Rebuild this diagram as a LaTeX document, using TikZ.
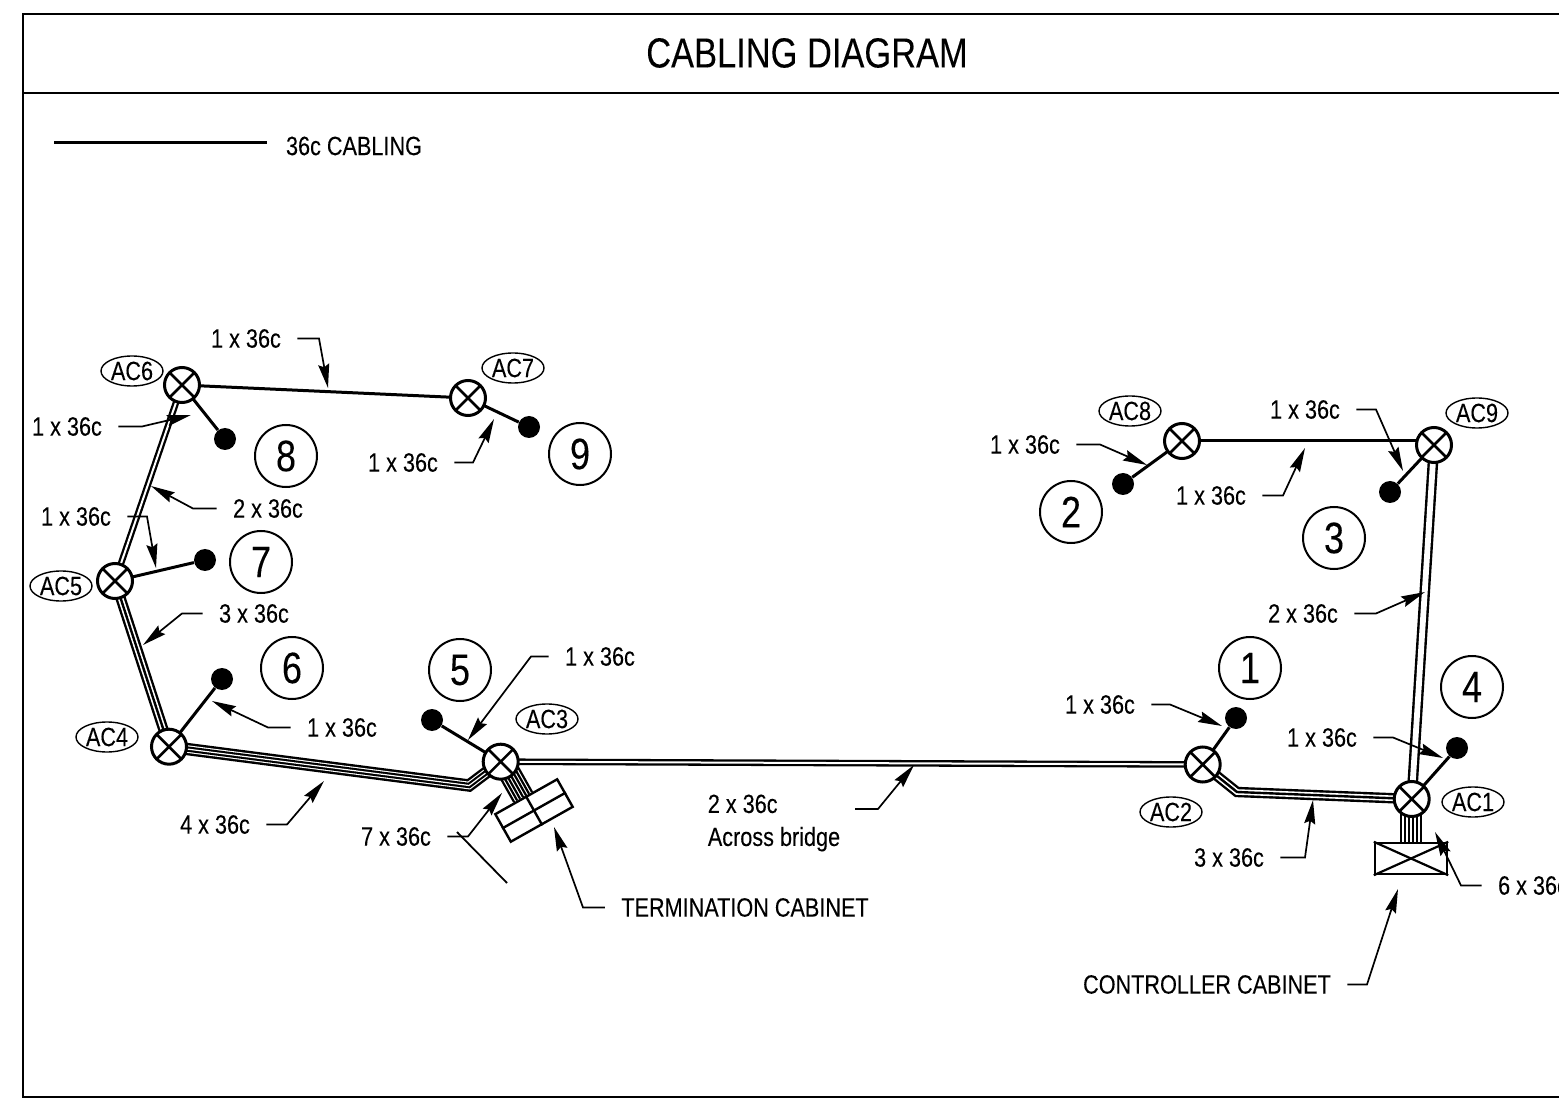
\documentclass[tikz,border=0pt]{standalone}
\usepackage{fontspec}
\setmainfont[FakeStretch=0.82,FakeBold=0.12]{Liberation Sans}
\usetikzlibrary{arrows.meta}
\usetikzlibrary{calc}
\usetikzlibrary{backgrounds}
\usetikzlibrary{shapes.geometric}
\tikzset{
        outlet/.style={circle,draw,fill=white,line width=1.5pt,minimum size=17.5pt,inner sep=0pt,
                path picture={\draw[line width=1.3pt] (path picture bounding box.north west) -- (path picture bounding box.south east)
                (path picture bounding box.north east) -- (path picture bounding box.south west);}},
        tagoval/.style={ellipse,draw,line width=0.7pt,minimum width=31pt,minimum height=15pt,inner sep=0pt,font=\fontsize{13.2}{15}\selectfont},
        numcircle/.style={circle,draw,line width=1pt,minimum size=31pt,inner sep=0pt,font=\fontsize{22}{24}\selectfont},
        enddot/.style={circle,fill=black,minimum size=11pt,inner sep=0pt},
        lbl/.style={inner xsep=8pt,inner ysep=0pt,font=\fontsize{13.2}{16}\selectfont},
        leader/.style={line width=0.85pt,-{Stealth[length=12pt,width=5.5pt,inset=1.5pt]}},
        cableone/.style={line width=1.5pt},
        cabletwo/.style={line width=1.15pt,double,double distance=1pt},
        cablewide/.style={line width=1.2pt,double,double distance=2.9pt},
        cablethree/.style={draw=black,line width=1.2pt,preaction={draw,line width=5.2pt},preaction={draw,white,line width=2.8pt}},
        cablefour/.style={draw=white,line width=0.6pt,preaction={draw=black,line width=6.2pt},preaction={draw=white,line width=3.8pt},preaction={draw=black,line width=2.7pt}},
        cabinet/.style={rectangle,draw,line width=1.2pt,inner sep=0pt}
}
\begin{document}
\begin{tikzpicture}[x=0.5pt,y=-0.5pt]
        \useasboundingbox (0,0) rectangle (1559,1101);

        \draw[line width=0.9pt] (1570,14) -- (23,14) -- (23,1097) -- (1570,1097);
        \draw[line width=0.9pt] (23,93) -- (1570,93);

        \node[inner sep=0pt,font=\fontsize{21}{24}\selectfont] (title) at (807,53) {CABLING DIAGRAM};

        \coordinate (keystart) at (54,143);
        \coordinate (keyend) at (267,143);
        \draw[line width=1.5pt] (keystart) -- (keyend);
        \node[lbl,inner xsep=0pt] (keytext) at (354,146) {36c CABLING};

        \foreach \nm/\x/\y in {AC1/1411.7/799,AC2/1202.7/764.5,AC3/500.7/761.7,AC4/169/746.7,AC5/115/581,AC6/182/385,AC7/468/398,AC8/1182/441,AC9/1434/445}
                \node[outlet] (\nm) at (\x,\y) {};

        \foreach \nm/\x/\y in {AC1/1473/802,AC2/1171/812,AC3/547/719,AC4/107/737,AC5/61/586,AC6/132/371,AC7/513/368,AC8/1130/411,AC9/1477/413}
                \node[tagoval] (tag\nm) at (\x,\y) {\nm};

        \foreach \nm/\x/\y/\dx/\dy in {1/1250/668/1236/718,2/1071/512/1123/484,3/1334/538/1390/492,4/1472/687/1457/748,5/460/670/432/720,6/292/668/222/679,7/261/562/205/560,8/286/456/225/439,9/580/454/529/427}{
                \node[numcircle] (num\nm) at (\x,\y) {\nm};
                \node[enddot] (dot\nm) at (\dx,\dy) {};
        }

        \node[cabinet,minimum width=35.5pt,minimum height=15.8pt,rotate=29.4] (termcab) at (534,810.5) {};
        \draw[line width=1.2pt] (termcab.north) -- (termcab.south);
        \draw[line width=1.2pt] (termcab.west) -- (termcab.east);

        \node[cabinet,minimum width=36pt,minimum height=15.5pt,fill=white] (ctrlcab) at (1411,858.5) {};
        \draw[line width=1.1pt] (ctrlcab.north west) -- (ctrlcab.south east);
        \draw[line width=1.1pt] (ctrlcab.north east) -- (ctrlcab.south west);

        \begin{scope}[on background layer]
                \draw[cableone] (AC6.center) -- (AC7.center);
                \draw[cableone] (AC8.center) -- (AC8.center -| AC9.center);
                \draw[cabletwo] (AC6.center) -- (AC5.center);
                \draw[cablethree] (AC5.center) -- (AC4.center);
                \draw[cablefour] (AC4.center) -- (469,785.5) -- (AC3.center);
                \draw[cabletwo] (AC3.center) -- (AC2.center);
                \draw[cablethree] (AC2.center) -- (1237,792) -- (AC1.center);
                \draw[cablewide] (AC1.center) -- (AC9.center);

                \foreach \nm/\num in {AC1/4,AC2/1,AC3/5,AC4/6,AC5/7,AC6/8,AC7/9,AC8/2,AC9/3}
                        \draw[cableone] (\nm.center) -- (dot\num);

                \foreach \t in {0.32,0.367,0.413,0.46,0.507,0.553,0.6}
                        \draw[line width=1.1pt] ($(termcab.north west)!\t!(termcab.north east)$) -- ($($(termcab.south west)!\t!(termcab.south east)$)!2!($(termcab.north west)!\t!(termcab.north east)$)$);

                \foreach \t in {1401,1405,1409,1413,1417,1421}
                        \draw[line width=1.2pt] (\t,799) -- (\t,843);
        \end{scope}

        \foreach \nm/\x/\y/\side/\bx/\by/\tx/\ty/\txt in {
                la/246/338.5/east/319/338.5/328/388/{1 x 36c},
                lb/67/426.5/east/142/426.5/191/415/{1 x 36c},
                lc/268/508.5/west/193/508.5/151/486/{2 x 36c},
                ld/76/516.5/east/147/516.5/156/568/{1 x 36c},
                le/254/613.5/west/182/613.5/143/645/{3 x 36c},
                lf/342/727.5/west/268/727.5/212/701/{1 x 36c},
                lg/215/824.5/east/287/824.5/324/781/{4 x 36c},
                lh/403/462.5/east/473/462.5/494/419/{1 x 36c},
                li/600/656.5/west/531/656.5/468/740/{1 x 36c},
                lj/396/836.5/east/468/836.5/502/793/{7 x 36c},
                lk/745/907.5/west/583/907.5/554/827/{TERMINATION CABINET},
                ll/1229/857.5/east/1305/857.5/1313/800/{3 x 36c},
                lm/1100/704.5/east/1170/704.5/1222/726/{1 x 36c},
                ln/1322/737.5/east/1393/737.5/1443/758/{1 x 36c},
                lo/1533/885.5/west/1461/885.5/1435/832/{6 x 36c},
                lp/1207/984.5/east/1367/984.5/1398/889/{CONTROLLER CABINET},
                lq/1303/613.5/east/1376/613.5/1425/592/{2 x 36c},
                lr/1211/495.5/east/1283/495.5/1305/448/{1 x 36c},
                ls/1305/409.5/east/1376/409.5/1403/471/{1 x 36c},
                lt/1025/444.5/east/1100/444.5/1147/465/{1 x 36c}}{
                \node[lbl] (\nm) at (\x,\y) {\txt};
                \coordinate (tip\nm) at (\tx,\ty);
                \coordinate (bend\nm) at (\bx,\by);
                \draw[leader] (\nm.\side) -- (bend\nm) -- (tip\nm);
        }

        \node[lbl,inner xsep=0pt,align=left] (bridgetext) at (774,823) {2 x 36c\\[0.5pt]Across bridge};
        \coordinate (bridgestart) at (855,809);
        \coordinate (bridgebend) at (878,809);
        \coordinate (bridgetip) at (914,765);
        \draw[leader] (bridgestart) -- (bridgebend) -- (bridgetip);

        \coordinate (straya) at (457,832);
        \coordinate (strayb) at (507,883);
        \draw[line width=0.9pt] (straya) -- (strayb);
\end{tikzpicture}
\end{document}
